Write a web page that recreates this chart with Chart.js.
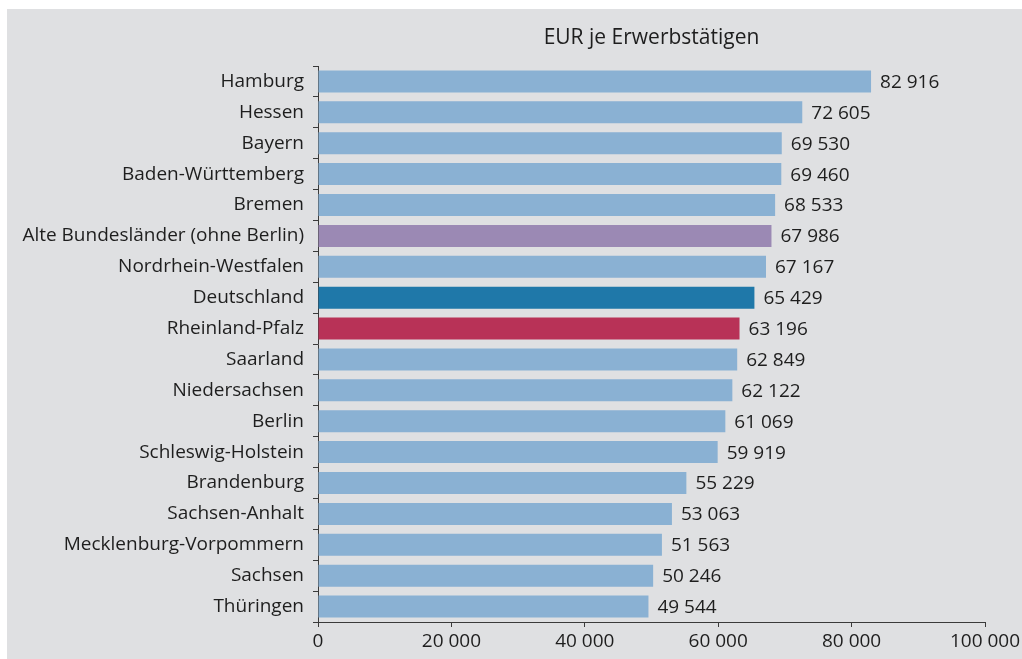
<!DOCTYPE html>
<html lang="de">
<head>
<meta charset="utf-8">
<title>EUR je Erwerbstätigen</title>
<script src="https://cdn.jsdelivr.net/npm/chart.js@4/dist/chart.umd.min.js"></script>
<style>
    html, body { margin: 0; padding: 0; background: #ffffff; }
    #wrap {
        position: absolute;
        left: 7px;
        top: 9px;
        width: 1015px;
        height: 650px;
        background: #dfe0e2;
    }
</style>
</head>
<body>
<div id="wrap"><canvas id="chart" width="1015" height="650"></canvas></div>
<script>
// Data
const laender = [
    'Hamburg', 'Hessen', 'Bayern', 'Baden-Württemberg', 'Bremen',
    'Alte Bundesländer (ohne Berlin)', 'Nordrhein-Westfalen', 'Deutschland',
    'Rheinland-Pfalz', 'Saarland', 'Niedersachsen', 'Berlin',
    'Schleswig-Holstein', 'Brandenburg', 'Sachsen-Anhalt',
    'Mecklenburg-Vorpommern', 'Sachsen', 'Thüringen'
];
const eurJeErwerbstaetigen = [
    82916, 72605, 69530, 69460, 68533,
    67986, 67167, 65429,
    63196, 62849, 62122, 61069,
    59919, 55229, 53063,
    51563, 50246, 49544
];
const xTicks = [0, 20000, 40000, 60000, 80000, 100000];
const chartTitle = 'EUR je Erwerbstätigen';

// Colours
const colDefault = '#8ab1d3';
const colAlte = '#9b89b4';
const colDeutschland = '#1f78a9';
const colRlp = '#b83257';
const textColor = '#1e1e1e';
const axisColor = '#3a3a3a';
const fontFamily = '"Open Sans", "Noto Sans", sans-serif';

function fmt(n) {
    return String(n).replace(/\B(?=(\d{3})+(?!\d))/g, ' ');
}

function barColor(ctx) {
    const name = laender[ctx.dataIndex];
    if (name === 'Deutschland') return colDeutschland;
    if (name === 'Rheinland-Pfalz') return colRlp;
    if (name.startsWith('Alte Bundesländer')) return colAlte;
    return colDefault;
}

// Title over plot area and value labels at bar ends
const extras = {
    id: 'extras',
    afterDatasetsDraw(chart) {
        const c = chart.ctx;
        const area = chart.chartArea;
        c.save();
        c.fillStyle = textColor;
        c.font = '21px ' + fontFamily;
        c.textAlign = 'center';
        c.textBaseline = 'middle';
        c.fillText(chartTitle, (area.left + area.right) / 2, 29);

        c.font = '19px ' + fontFamily;
        c.textAlign = 'left';
        const meta = chart.getDatasetMeta(0);
        meta.data.forEach(function(bar, i) {
            c.fillText(fmt(eurJeErwerbstaetigen[i]), bar.x + 9, bar.y + 1);
        });
        c.restore();
    }
};

const ctx = document.getElementById('chart').getContext('2d');

new Chart(ctx, {
    type: 'bar',
    data: {
        labels: laender,
        datasets: [{
            data: eurJeErwerbstaetigen,
            backgroundColor: barColor,
            borderWidth: 0,
            barPercentage: 0.8,
            categoryPercentage: 0.89
        }]
    },
    options: {
        indexAxis: 'y',
        responsive: false,
        animation: false,
        layout: {
            padding: { top: 57, right: 37, left: 0, bottom: 0 }
        },
        plugins: {
            legend: { display: false },
            title: { display: false },
            tooltip: { enabled: false }
        },
        scales: {
            y: {
                afterFit: function(scale) { scale.width = 311; },
                border: { display: true, color: axisColor, width: 1 },
                grid: {
                    drawOnChartArea: false,
                    drawTicks: true,
                    tickLength: 5,
                    color: axisColor,
                    offset: true
                },
                ticks: {
                    color: textColor,
                    padding: 9,
                    font: { family: fontFamily, size: 19 }
                }
            },
            x: {
                min: 0,
                max: 100000,
                afterFit: function(scale) {
                    scale.height = 37;
                    scale.paddingLeft = 0;
                    scale.paddingRight = 0;
                },
                afterBuildTicks: function(scale) {
                    scale.ticks = xTicks.map(function(v) { return { value: v }; });
                },
                border: { display: true, color: axisColor, width: 1 },
                grid: {
                    drawOnChartArea: false,
                    drawTicks: true,
                    tickLength: 5,
                    color: axisColor
                },
                ticks: {
                    color: textColor,
                    padding: 3,
                    maxRotation: 0,
                    font: { family: fontFamily, size: 19 },
                    callback: function(v) { return fmt(v); }
                }
            }
        }
    },
    plugins: [extras]
});
</script>
</body>
</html>
